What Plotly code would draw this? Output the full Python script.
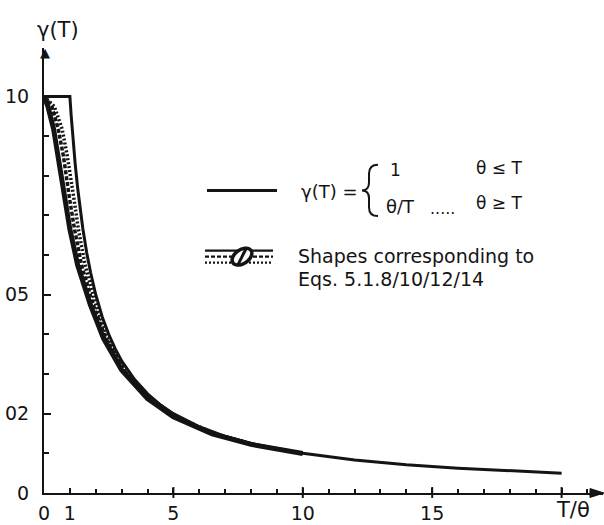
import numpy as np
import plotly.graph_objects as go

# ---- data -------------------------------------------------------------
# idealised variance function: 1 up to T = theta, then theta / T
t_ideal = [0, 1, 1.05, 1.1, 1.15, 1.2, 1.3, 1.4, 1.5, 1.65, 1.8, 2, 2.25, 2.5,
           2.75, 3, 3.5, 4, 4.5, 5, 6, 7, 8, 9, 10, 12, 14, 16, 18, 20]
g_ideal = [1, 1, 0.952, 0.909, 0.870, 0.833, 0.769, 0.714, 0.667, 0.606, 0.556,
           0.5, 0.444, 0.4, 0.364, 0.333, 0.286, 0.25, 0.222, 0.2, 0.167, 0.143,
           0.125, 0.111, 0.1, 0.0833, 0.0714, 0.0625, 0.0556, 0.05]

# shapes from the individual correlation models (Eqs. 5.1.8/10/12/14)
t_shape_a = [0, 0.15, 0.37, 0.55, 0.79, 1.0, 1.3, 1.79, 2.3, 3.0, 4.0, 5.0, 6.5, 8.0, 10.0]
g_shape_a = [1.0, 0.975, 0.918, 0.85, 0.745, 0.665, 0.575, 0.475, 0.39, 0.31,
             0.238, 0.192, 0.149, 0.1225, 0.0995]

t_shape_b = [0, 0.3, 0.55, 0.75, 0.98, 1.18, 1.45, 1.9, 2.39, 3.08, 4.07, 5.06, 6.5, 8.0, 10.0]
g_shape_b = [1.0, 0.975, 0.918, 0.85, 0.745, 0.665, 0.575, 0.475, 0.39, 0.31,
             0.238, 0.193, 0.151, 0.1235, 0.0997]

t_shape_c = [0, 0.4, 0.7, 0.9, 1.15, 1.33, 1.59, 2.0, 2.47, 3.15, 4.13, 5.12, 6.5, 8.0]
g_shape_c = [1.0, 0.975, 0.918, 0.85, 0.745, 0.665, 0.575, 0.475, 0.39, 0.31,
             0.238, 0.193, 0.152, 0.124]

x_ticks = [0, 1, 5, 10, 15, 20]
x_tick_text = ["0", "1", "5", "10", "15", ""]
y_ticks = [0, 0.2, 0.5, 1.0]
y_tick_text = ["0", "02", "05", "10"]
y_minor = [0.1, 0.3, 0.4, 0.6, 0.7, 0.8, 0.9]

# ---- styling ----------------------------------------------------------
INK = "#141414"
FONT = "DejaVu Sans"
W, H = 604, 525
ML, MR, MT, MB = 44, 1, 48, 27
PW, PH = W - ML - MR, H - MT - MB
X_RANGE = [0, 21.6]
Y_RANGE = [0, 1.1222]


def px(x, y):
    """pixel position -> paper coordinates"""
    return (x - ML) / PW, (H - MB - y) / PH


def pt(x, y):
    a, b = px(x, y)
    return "%.5f,%.5f" % (a, b)


def polygon(points):
    s = "M " + pt(*points[0])
    for p in points[1:]:
        s += " L " + pt(*p)
    return s + " Z"


fig = go.Figure()

fig.add_trace(go.Scatter(x=t_shape_a, y=g_shape_a, mode="lines",
                         line=dict(color=INK, width=5), hoverinfo="skip"))
fig.add_trace(go.Scatter(x=t_shape_b, y=g_shape_b, mode="lines",
                         line=dict(color=INK, width=3.5, dash="4px,2px"), hoverinfo="skip"))
fig.add_trace(go.Scatter(x=t_shape_c, y=g_shape_c, mode="lines",
                         line=dict(color=INK, width=3.5, dash="2px,2px"), hoverinfo="skip"))
fig.add_trace(go.Scatter(x=t_ideal, y=g_ideal, mode="lines",
                         line=dict(color=INK, width=3), hoverinfo="skip"))

shapes = []
annotations = []

# x-axis arrowhead
shapes.append(dict(type="path", xref="paper", yref="paper",
                   path=polygon([(604, 498), (590, 493.5), (590, 502.5)]),
                   fillcolor=INK, line=dict(color=INK, width=1)))

# crossing marks on the major x ticks
for tv in [5, 10, 15, 20]:
    shapes.append(dict(type="line", xref="x", yref="paper", x0=tv, x1=tv,
                       y0=px(0, 503)[1], y1=px(0, 492)[1],
                       line=dict(color=INK, width=2)))

# legend: ideal curve
x0, y0 = px(207, 192)
x1, _ = px(277, 192)
shapes.append(dict(type="line", xref="paper", yref="paper", x0=x0, y0=y0, x1=x1, y1=y0,
                   line=dict(color=INK, width=3)))

# brace
brace = ("M " + pt(378, 166) + " Q " + pt(369, 166) + " " + pt(369, 175) +
         " L " + pt(369, 184) + " Q " + pt(369, 192) + " " + pt(362, 192) +
         " Q " + pt(369, 192) + " " + pt(369, 200) + " L " + pt(369, 209) +
         " Q " + pt(369, 218) + " " + pt(378, 218))
shapes.append(dict(type="path", xref="paper", yref="paper", path=brace,
                   line=dict(color=INK, width=2)))

# legend: band of shapes
for yy, dash in [(253, "solid"), (259, "4px,2px"), (265, "2px,2px")]:
    a, b = px(205, yy)
    c, _ = px(273, yy)
    shapes.append(dict(type="line", xref="paper", yref="paper", x0=a, y0=b, x1=c, y1=b,
                       line=dict(color=INK, width=2.2, dash=dash)))
ang = np.linspace(0, 2 * np.pi, 36, endpoint=False)
rot = np.deg2rad(-35)
ex = 242 + 11 * np.cos(ang) * np.cos(rot) - 7 * np.sin(ang) * np.sin(rot)
ey = 259 + 11 * np.cos(ang) * np.sin(rot) + 7 * np.sin(ang) * np.cos(rot)
shapes.append(dict(type="path", xref="paper", yref="paper",
                   path=polygon(list(zip(ex, ey))),
                   fillcolor="white", line=dict(color=INK, width=3.5)))
shapes.append(dict(type="line", xref="paper", yref="paper",
                   x0=px(238, 267)[0], y0=px(238, 267)[1], x1=px(246, 251)[0], y1=px(246, 251)[1],
                   line=dict(color=INK, width=3)))


def label(text, x, y, size, anchor="left"):
    ax, ay = px(x, y)
    annotations.append(dict(text=text, x=ax, y=ay, xref="paper", yref="paper",
                            xanchor=anchor, yanchor="middle", showarrow=False,
                            font=dict(family=FONT, size=size, color=INK)))


# arrowhead at the top end of the vertical axis
label("▲", 44.5, 53, 13, "center")

label("γ(T)", 58, 30, 21, "center")
label("T/θ", 573, 515, 21, "center")
label("γ(T) =", 299, 193, 18)
label("1", 388, 171, 17)
label("θ ≤ T", 474, 169, 17)
label("θ/T", 384, 208, 18)
label(".....", 428, 210, 16)
label("θ ≥ T", 474, 205, 17)
label("Shapes corresponding to", 296, 258, 19)
label("Eqs. 5.1.8/10/12/14", 296, 282, 19)

fig.update_layout(
    width=W, height=H,
    margin=dict(l=ML, r=MR, t=MT, b=MB, pad=0),
    paper_bgcolor="white", plot_bgcolor="white",
    showlegend=False,
    shapes=shapes, annotations=annotations,
    font=dict(family=FONT, color=INK),
    xaxis=dict(range=X_RANGE, showgrid=False, zeroline=False,
               showline=True, linecolor=INK, linewidth=2,
               tickvals=x_ticks, ticktext=x_tick_text,
               ticks="inside", ticklen=5, tickwidth=2, tickcolor=INK,
               minor=dict(dtick=1, tick0=0, ticks="inside", ticklen=4, tickwidth=1.5,
                          tickcolor=INK, showgrid=False),
               tickfont=dict(family=FONT, size=19, color=INK),
               ticklabelstandoff=2),
    yaxis=dict(range=Y_RANGE, showgrid=False, zeroline=False,
               showline=True, linecolor=INK, linewidth=2,
               tickvals=y_ticks, ticktext=y_tick_text,
               ticks="inside", ticklen=7, tickwidth=2, tickcolor=INK,
               minor=dict(tickvals=y_minor, ticks="inside", ticklen=5, tickwidth=1.5,
                          tickcolor=INK, showgrid=False),
               tickfont=dict(family=FONT, size=19, color=INK),
               ticklabelstandoff=9),
)

fig.write_html("out.html")
